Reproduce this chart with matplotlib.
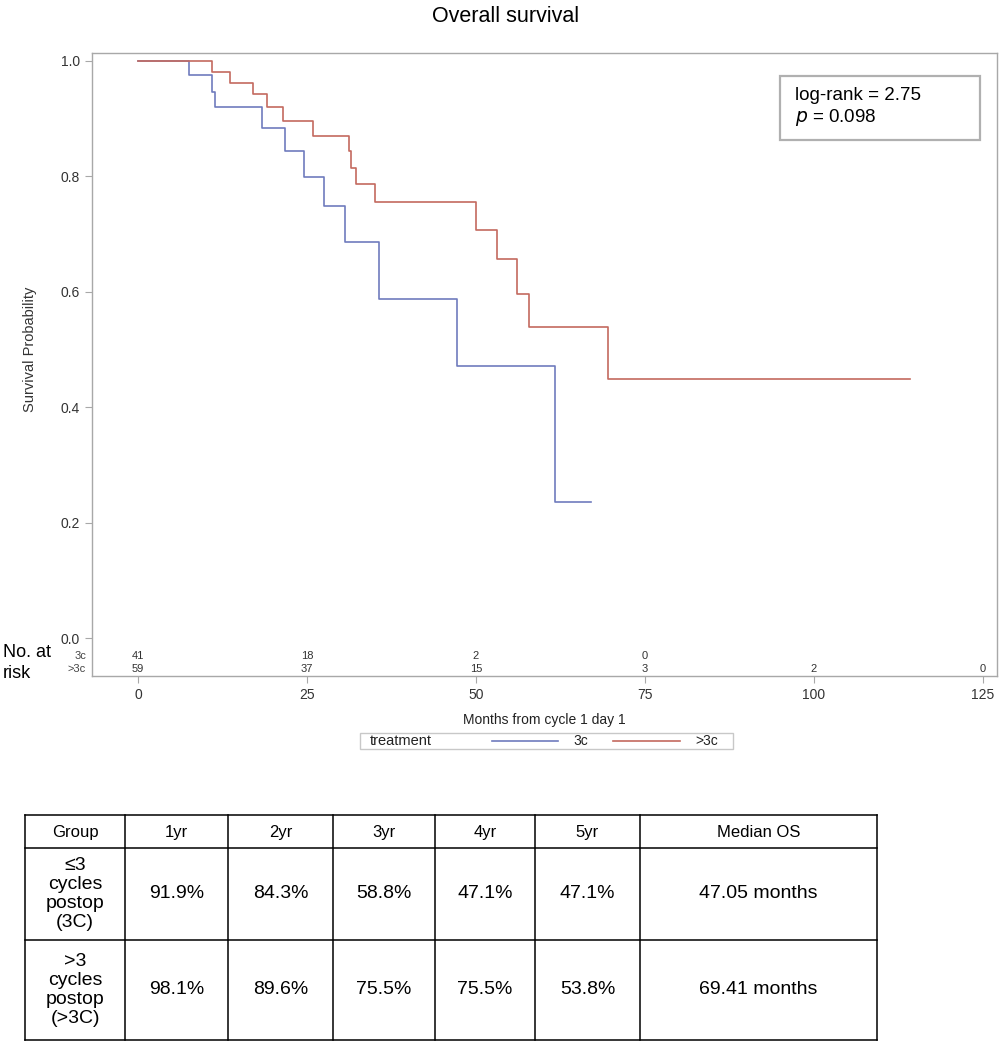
import numpy as np
import matplotlib.pyplot as plt

# Kaplan-Meier step data
months_3c = [0, 7.5, 11.0, 11.4, 18.4, 21.8, 24.6, 27.5, 30.6, 35.7, 47.2, 61.7, 67.1]
surv_3c = [1.0, 0.975, 0.946, 0.919, 0.884, 0.843, 0.798, 0.748, 0.686, 0.588, 0.471, 0.235, 0.235]
months_gt3c = [0, 11.0, 13.6, 17.0, 19.1, 21.4, 25.9, 31.2, 31.5, 32.2, 35.0, 50.0, 53.1, 56.1,
               57.8, 69.6, 114.3]
surv_gt3c = [1.0, 0.981, 0.962, 0.942, 0.919, 0.896, 0.870, 0.844, 0.815, 0.786, 0.755, 0.707,
             0.656, 0.596, 0.538, 0.448, 0.448]

# numbers at risk
risk_times = [0, 25, 50, 75, 100, 125]
risk_3c = [41, 18, 2, 0]
risk_gt3c = [59, 37, 15, 3, 2, 0]

# summary table
table_header = ['Group', '1yr', '2yr', '3yr', '4yr', '5yr', 'Median OS']
table_rows = [
    ['\u22643\ncycles\npostop\n(3C)', '91.9%', '84.3%', '58.8%', '47.1%', '47.1%', '47.05 months'],
    ['>3\ncycles\npostop\n(>3C)', '98.1%', '89.6%', '75.5%', '75.5%', '53.8%', '69.41 months'],
]

blue = '#6f7bbd'
red = '#c46a5f'
frame = '#a8a8a8'
plt.rcParams['font.family'] = ['Liberation Sans', 'DejaVu Sans']

fig = plt.figure(figsize=(10, 10.5), dpi=100)
W, H = 1000, 1050

# main KM axes, placed in pixel terms
left, right, top, bottom = 92, 997, 52.7, 676
ax = fig.add_axes([left / W, 1 - bottom / H, (right - left) / W, (bottom - top) / H])
ax.step(months_3c, surv_3c, where='post', color=blue, lw=1.2)
ax.step(months_gt3c, surv_gt3c, where='post', color=red, lw=1.2)
ax.set_xlim(-6.8, 127.1)
ax.set_ylim(-0.0658, 1.0139)
ax.set_xticks([0, 25, 50, 75, 100, 125])
ax.set_yticks([0.0, 0.2, 0.4, 0.6, 0.8, 1.0])
ax.set_yticklabels(['0.0', '0.2', '0.4', '0.6', '0.8', '1.0'])
for s in ax.spines.values():
    s.set_color(frame)
    s.set_linewidth(1.0)
ax.tick_params(colors=frame, labelcolor='#333333', labelsize=10, length=5, width=0.8)
for lab in ax.get_xticklabels() + ax.get_yticklabels():
    lab.set_fontstretch('condensed')
ax.set_xlabel('Months from cycle 1 day 1', fontsize=10, fontstretch='condensed', color='#222222',
              labelpad=8)

fig.text(30 / W, 1 - 349 / H, 'Survival Probability', rotation=90, ha='center', va='center',
         fontsize=10.5, fontstretch='condensed', color='#333333')
fig.text(506 / W, 1 - 16 / H, 'Overall survival', ha='center', va='center', fontsize=15.5, color='black')

# numbers at risk inside the frame
for t, n in zip(risk_times, risk_3c):
    ax.text(t, -0.031, str(n), ha='center', va='center', fontsize=8, color='#333333')
for t, n in zip(risk_times, risk_gt3c):
    ax.text(t, -0.054, str(n), ha='center', va='center', fontsize=8, color='#333333')
fig.text(86 / W, 1 - 655.7 / H, '3c', ha='right', va='center', fontsize=8, color='#444444')
fig.text(86 / W, 1 - 669.3 / H, '>3c', ha='right', va='center', fontsize=8, color='#444444')
fig.text(3 / W, 1 - 663 / H, 'No. at\nrisk', ha='left', va='center', fontsize=13, linespacing=1.25)

# overlay axes in pixel coordinates for legend, log-rank box and table
ov = fig.add_axes([0, 0, 1, 1])
ov.set_xlim(0, W)
ov.set_ylim(H, 0)
ov.axis('off')

# log-rank box
ov.add_patch(plt.Rectangle((780, 75.7), 200, 64.3, fill=False, ec='#b0b0b0', lw=1.6))
ov.text(795, 96, 'log-rank = 2.75', ha='left', va='center', fontsize=13.5)
ov.text(795, 117, '$p$ = 0.098', ha='left', va='center', fontsize=13.5)

ov.add_patch(plt.Rectangle((360, 732.7), 373, 16.6, fill=False, ec='#c8c8c8', lw=1))
ov.text(370, 741, 'treatment', ha='left', va='center', fontsize=10.5, color='#222222')
ov.plot([492, 558], [741, 741], color=blue, lw=1.2)
ov.text(573, 741, '3c', ha='left', va='center', fontsize=10, color='#222222')
ov.plot([613, 680], [741, 741], color=red, lw=1.2)
ov.text(695, 741, '>3c', ha='left', va='center', fontsize=10, color='#222222')

# summary table
col_edges = [25, 125, 228, 333, 435, 535, 640, 877]
row_edges = [815, 848, 940, 1040]
for x in col_edges:
    ov.plot([x, x], [row_edges[0], row_edges[-1]], color='black', lw=1.1)
for y in row_edges:
    ov.plot([col_edges[0], col_edges[-1]], [y, y], color='black', lw=1.1)
for j, txt in enumerate(table_header):
    xc = (col_edges[j] + col_edges[j + 1]) / 2
    ov.text(xc, (row_edges[0] + row_edges[1]) / 2 + 1, txt, ha='center', va='center', fontsize=12)
for i, row in enumerate(table_rows):
    yc = (row_edges[i + 1] + row_edges[i + 2]) / 2
    for j, txt in enumerate(row):
        xc = (col_edges[j] + col_edges[j + 1]) / 2
        ov.text(xc, yc, txt, ha='center', va='center', fontsize=14, linespacing=1.17)

fig.savefig('out.png', dpi=100)
